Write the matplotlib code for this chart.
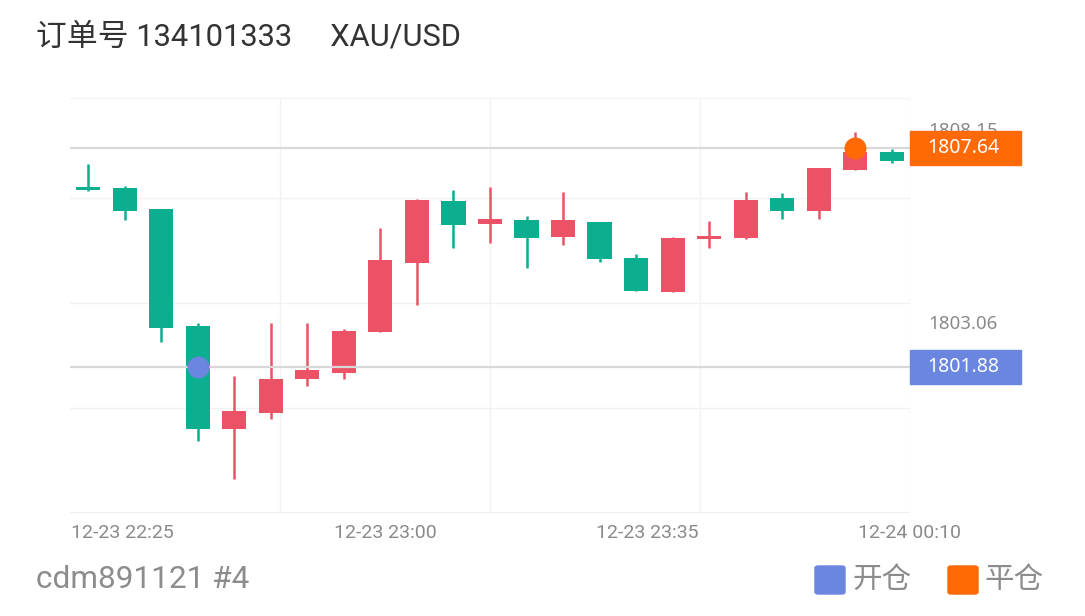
import numpy as np
import matplotlib
matplotlib.use('Agg')
import matplotlib.pyplot as plt
from matplotlib.patches import Rectangle, FancyBboxPatch

plt.rcParams['font.family'] = ['Roboto', 'Noto Sans CJK SC', 'DejaVu Sans']

# 5 min candles, 12-23 22:25 .. 12-24 00:15
opens  = [1806.63, 1806.60, 1806.05, 1802.95, 1800.24, 1800.66, 1801.55, 1801.72, 1802.80, 1804.61, 1806.24, 1805.64,
          1805.75, 1805.31, 1805.69, 1804.74, 1803.84, 1805.24, 1805.27, 1806.34, 1805.99, 1807.07, 1807.55]
closes = [1806.53, 1805.98, 1802.90, 1800.23, 1800.72, 1801.56, 1801.79, 1802.82, 1804.68, 1806.28, 1805.62, 1805.78,
          1805.27, 1805.75, 1804.71, 1803.88, 1805.27, 1805.33, 1806.27, 1805.99, 1807.12, 1807.55, 1807.31]
highs  = [1807.23, 1806.65, 1806.05, 1803.02, 1801.63, 1803.02, 1803.04, 1802.88, 1805.55, 1806.31, 1806.54, 1806.63,
          1805.86, 1806.49, 1805.69, 1804.84, 1805.31, 1805.72, 1806.50, 1806.47, 1807.12, 1808.06, 1807.61]
lows   = [1806.52, 1805.75, 1802.52, 1799.93, 1798.92, 1800.50, 1801.38, 1801.55, 1802.80, 1803.51, 1805.02, 1805.15,
          1804.49, 1805.10, 1804.65, 1803.88, 1803.84, 1805.02, 1805.24, 1805.77, 1805.77, 1807.07, 1807.24]

time_labels = ['12-23 22:25', '12-23 23:00', '12-23 23:35', '12-24 00:10']
ytick_vals = [1808.15, 1803.06]
open_idx, open_price = 3, 1801.88
close_idx, close_price = 21, 1807.64
order_no = '134101333'
symbol = 'XAU/USD'
account = 'cdm891121 #4'

UP = '#ec5266'
DOWN = '#0bae8e'
BLUE = '#6b86df'
ORANGE = '#ff6a06'

n = len(opens)
x = np.arange(n)
o = np.array(opens); c = np.array(closes)

fig = plt.figure(figsize=(10.85, 6.16), dpi=100)
ax = fig.add_axes([0.0645, 0.1667, 0.7742, 0.675])
ymin, ymax = 1798.01, 1808.98
ax.set_xlim(-0.5, n - 0.5)
ax.set_ylim(ymin, ymax)

# grid
for gy in [1800.78, 1803.55, 1806.32]:
    ax.axhline(gy, color='#f2f2f2', lw=1, zorder=0)
ax.axhline(ymin, color='#eeeeee', lw=1.2, zorder=0)
ax.axhline(ymax, color='#f4f4f4', lw=1, zorder=0)
for f in [0.25, 0.5, 0.75, 1.0]:
    ax.axvline(-0.5 + n * f, color='#f2f2f2', lw=1, zorder=0)

cols = [UP if cc >= oo else DOWN for oo, cc in zip(o, c)]
ax.vlines(x, lows, highs, colors=cols, lw=1.8, zorder=1)
body = np.maximum(np.abs(c - o), 0.06)
ax.bar(x, body, bottom=np.minimum(o, c), width=0.66, color=cols, zorder=2)

# trade lines + markers
ax.axhline(close_price, color='#d8d8d8', lw=1.6, zorder=3)
ax.axhline(open_price, color='#d8d8d8', lw=1.6, zorder=3)
ax.scatter([open_idx], [open_price], s=250, color=BLUE, zorder=4, linewidths=0)
ax.scatter([close_idx], [close_price], s=250, color=ORANGE, zorder=4, linewidths=0)

for s in ax.spines.values():
    s.set_visible(False)

ax.yaxis.tick_right()
ax.set_yticks(ytick_vals)
ax.set_yticklabels([f'{v:.2f}' for v in ytick_vals], family='Noto Sans', fontsize=13.5, color='#8a8a8a')
ax.tick_params(axis='y', length=0, pad=13)

ax.set_xticks([-0.5 + n * f for f in [1/16, 6/16, 11/16, 1.0]])
ax.set_xticklabels(time_labels, fontsize=14, color='#8a8a8a')
ax.tick_params(axis='x', length=0, pad=8)

# price boxes on right
tr = ax.get_yaxis_transform()
box_h = 0.9
for price, col in [(close_price, ORANGE), (open_price, BLUE)]:
    ax.add_patch(Rectangle((1.0, price - box_h / 2), 111 / 840, box_h, transform=tr,
                           color=col, clip_on=False, zorder=6))
    ax.text(1.0 + 53 / 840, price, f'{price:.2f}', transform=tr, ha='center', va='center',
            color='white', fontsize=14, family='Noto Sans', zorder=7, clip_on=False)

fig.text(0.033, 0.94, '订单号 ' + order_no + '     ' + symbol, fontsize=22.2, color='#333333',
         va='center', ha='left')
fig.text(0.033, 0.06, account, fontsize=22.7, color='#8c8c8c', va='center', ha='left')

# legend
for lx, col, lab in [(815, BLUE, '开仓'), (948, ORANGE, '平仓')]:
    fig.patches.append(FancyBboxPatch((lx / 1085, 1 - 594 / 616), 30 / 1085, 28 / 616,
                                      boxstyle='round,pad=0,rounding_size=0.003',
                                      transform=fig.transFigure, color=col))
    fig.text((lx + 37) / 1085, 1 - 579 / 616, lab, fontsize=21.3, color='#8c8c8c',
             va='center', ha='left', family=['Noto Sans CJK SC'])

fig.savefig('out.png', dpi=100, facecolor='white')
